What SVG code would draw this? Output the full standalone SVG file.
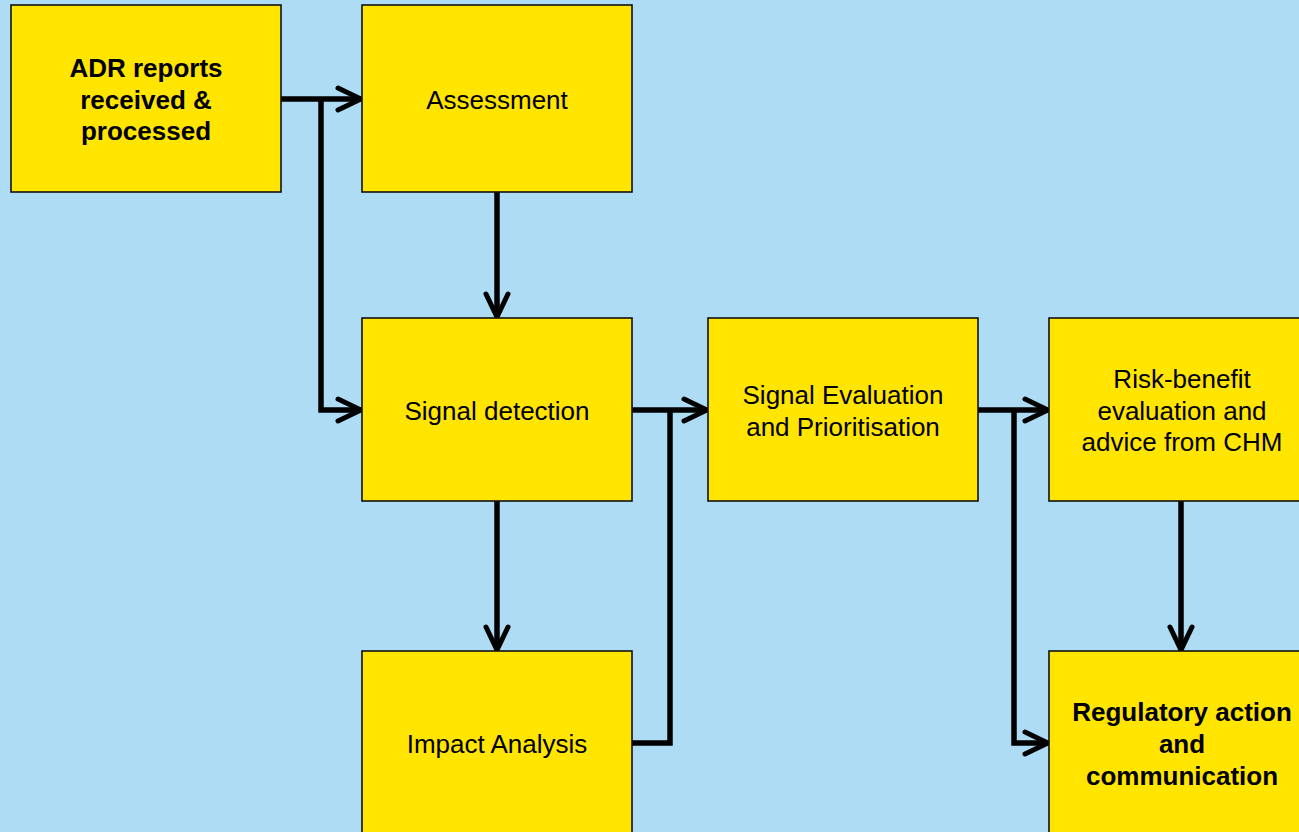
<svg xmlns="http://www.w3.org/2000/svg" width="1299" height="832" viewBox="0 0 1299 832">
  <defs>
    <marker id="arrow" viewBox="0 0 30 30" refX="26" refY="15" markerWidth="30" markerHeight="30" markerUnits="userSpaceOnUse" orient="auto">
      <path d="M3,4 L26,15 L3,26" fill="none" stroke="#000" stroke-width="5" stroke-linecap="round" stroke-linejoin="miter"/>
    </marker>
  </defs>
  <style>
    .box { fill: #ffe500; stroke: #111; stroke-width: 1.6; }
    .lbl { font-family: "Liberation Sans", Arial, sans-serif; font-size: 26px; fill: #000; text-anchor: middle; }
    .b { font-weight: bold; }
    .wire { fill: none; stroke: #000; stroke-width: 5.5; stroke-linejoin: miter; }
  </style>
  <rect width="1299" height="832" fill="#afdcf5"/>

  <g id="connectors">
    <path class="wire" d="M281,99 H361" marker-end="url(#arrow)"/>
    <path class="wire" d="M321,99 V410 H361" marker-end="url(#arrow)"/>
    <path class="wire" d="M497,192 V317" marker-end="url(#arrow)"/>
    <path class="wire" d="M497,501 V650" marker-end="url(#arrow)"/>
    <path class="wire" d="M632,410 H707" marker-end="url(#arrow)"/>
    <path class="wire" d="M632,743 H670 V410"/>
    <path class="wire" d="M978,410 H1048" marker-end="url(#arrow)"/>
    <path class="wire" d="M1014,410 V743 H1048" marker-end="url(#arrow)"/>
    <path class="wire" d="M1181,501 V650" marker-end="url(#arrow)"/>
  </g>

  <g id="adr-reports">
    <rect class="box" x="11" y="5" width="270" height="187"/>
    <text class="lbl b" x="146" y="77">ADR reports</text>
    <text class="lbl b" x="146" y="109">received &amp;</text>
    <text class="lbl b" x="146" y="140">processed</text>
  </g>
  <g id="assessment">
    <rect class="box" x="362" y="5" width="270" height="187"/>
    <text class="lbl" x="497" y="109">Assessment</text>
  </g>
  <g id="signal-detection">
    <rect class="box" x="362" y="318" width="270" height="183"/>
    <text class="lbl" x="497" y="420">Signal detection</text>
  </g>
  <g id="impact-analysis">
    <rect class="box" x="362" y="651" width="270" height="190"/>
    <text class="lbl" x="497" y="753">Impact Analysis</text>
  </g>
  <g id="signal-evaluation">
    <rect class="box" x="708" y="318" width="270" height="183"/>
    <text class="lbl" x="843" y="404">Signal Evaluation</text>
    <text class="lbl" x="843" y="436">and Prioritisation</text>
  </g>
  <g id="risk-benefit">
    <rect class="box" x="1049" y="318" width="268" height="183"/>
    <text class="lbl" x="1182" y="388">Risk-benefit</text>
    <text class="lbl" x="1182" y="420">evaluation and</text>
    <text class="lbl" x="1182" y="451">advice from CHM</text>
  </g>
  <g id="regulatory-action">
    <rect class="box" x="1049" y="651" width="268" height="190"/>
    <text class="lbl b" x="1182" y="721">Regulatory action</text>
    <text class="lbl b" x="1182" y="753">and</text>
    <text class="lbl b" x="1182" y="785">communication</text>
  </g>
</svg>
